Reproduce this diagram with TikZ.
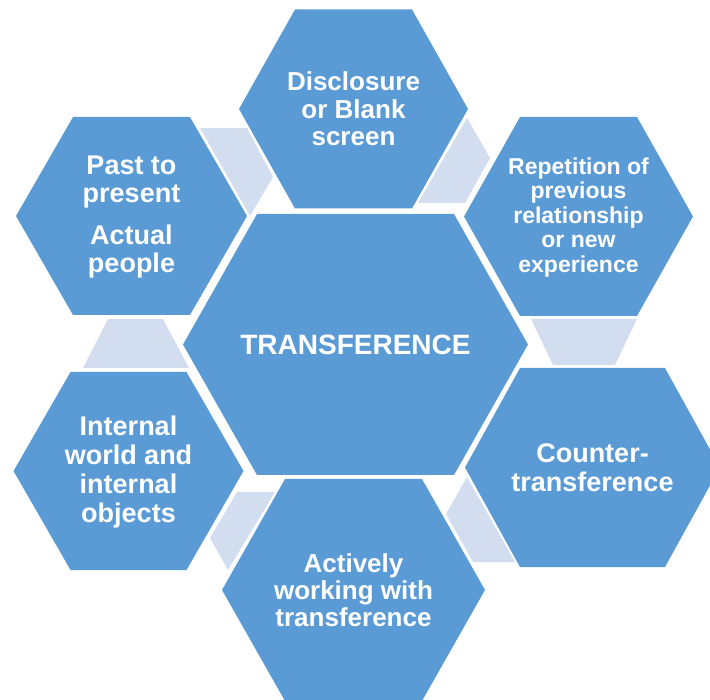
\documentclass[tikz,border=0pt]{standalone}
\usepackage{fontspec}
\setmainfont{Liberation Sans}
\definecolor{hexblue}{HTML}{5B9BD5}
\definecolor{linkgrey}{HTML}{D2DEEF}

\begin{document}
\begin{tikzpicture}[x=1pt,y=1pt]
    \tikzstyle{hexfill}=[fill=hexblue]
    \tikzstyle{linkfill}=[fill=linkgrey]
    \tikzstyle{hexlabel}=[text=white,align=center,inner sep=0pt]
    \clip (0,0) rectangle (710,-700);
    % light links between the outer cells
    \fill [linkfill] (200,-128) -- (247,-128) -- (273,-177) -- (250,-216) -- cycle;
    \fill [linkfill] (467,-118) -- (490,-158) -- (465,-203) -- (418,-203) -- cycle;
    \fill [linkfill] (531,-319) -- (637,-319) -- (615,-365) -- (553,-365) -- cycle;
    \fill [linkfill] (467,-477) -- (446,-514) -- (473,-562) -- (515,-562) -- cycle;
    \fill [linkfill] (237,-492) -- (275,-492) -- (228,-570) -- (210,-538) -- cycle;
    \fill [linkfill] (108,-319) -- (163,-319) -- (189,-368) -- (83,-368) -- cycle;
    % centre cell
    \fill [hexfill] (183,-344.5) -- (257,-214) -- (454,-214) -- (528,-344.5) -- (454,-475) -- (257,-475) -- cycle;
    \draw (355.5,-344.5) node (transference) [hexlabel,font=\bfseries\fontsize{28}{30}\selectfont] {TRANSFERENCE};
    % outer cells
    \fill [hexfill] (239,-109) -- (295,-9.5) -- (412,-9.5) -- (468,-109) -- (412,-208.5) -- (295,-208.5) -- cycle;
    \draw (353.5,-109) node (disclosure) [hexlabel,font=\bfseries\fontsize{26}{27.5}\selectfont] {Disclosure\\or Blank\\screen};
    \fill [hexfill] (464,-216.5) -- (520,-117) -- (637,-117) -- (693,-216.5) -- (637,-316) -- (520,-316) -- cycle;
    \draw (578.5,-217.5) node (repetition) [hexlabel,font=\bfseries\fontsize{23}{24.5}\selectfont] {Repetition of\\previous\\relationship\\or new\\experience};
    \fill [hexfill] (465,-467.5) -- (520,-368) -- (665,-368) -- (720,-467.5) -- (665,-567) -- (520,-567) -- cycle;
    \draw (592.5,-467.5) node (counter) [hexlabel,font=\bfseries\fontsize{27}{29}\selectfont] {Counter-\\transference};
    \fill [hexfill] (222,-590) -- (285,-479) -- (422,-479) -- (485,-590) -- (422,-701) -- (285,-701) -- cycle;
    \draw (353.5,-590) node (actively) [hexlabel,font=\bfseries\fontsize{26}{27}\selectfont] {Actively\\working with\\transference};
    \fill [hexfill] (13.5,-471) -- (70.5,-372) -- (186.5,-372) -- (243.5,-471) -- (186.5,-570) -- (70.5,-570) -- cycle;
    \draw (128.5,-472) node (internal) [hexlabel,font=\bfseries\fontsize{27}{29}\selectfont] {Internal\\world and\\internal\\objects};
    \fill [hexfill] (16,-216) -- (73,-117) -- (190,-117) -- (247,-216) -- (190,-315) -- (73,-315) -- cycle;
    \draw (131.5,-217) node (past) [hexlabel,font=\bfseries\fontsize{27}{27.5}\selectfont] {Past to\\present\\[15pt]Actual\\people};
\end{tikzpicture}
\end{document}
